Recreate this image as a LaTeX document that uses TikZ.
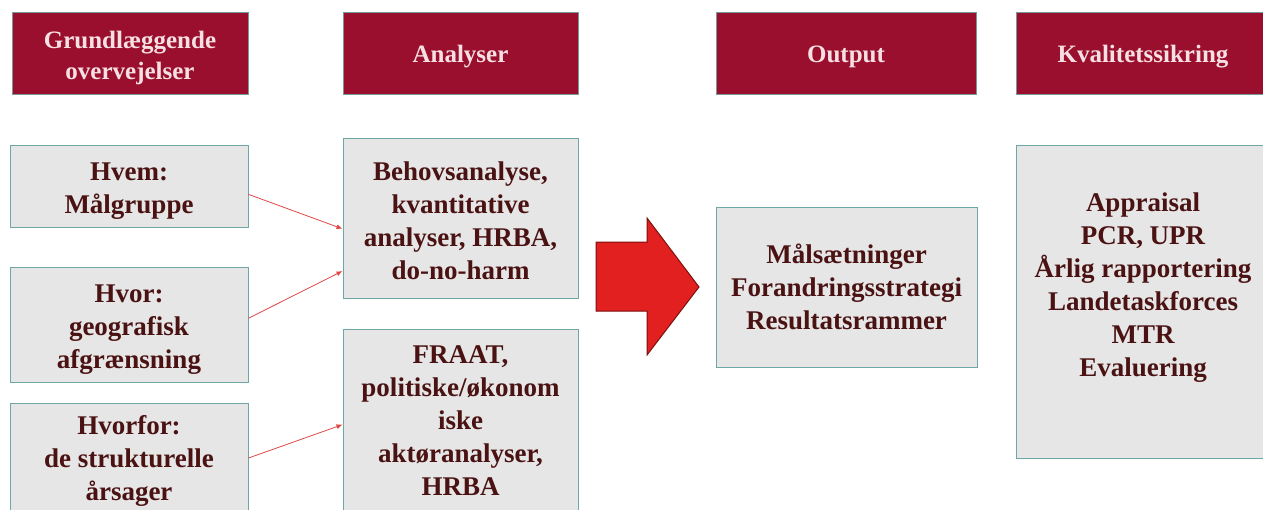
\documentclass[tikz,border=0pt]{standalone}
\usepackage{fontspec}
\setmainfont{Liberation Serif}
\definecolor{hdrfill}{HTML}{9A0F2D}
\definecolor{hdrtext}{HTML}{F6E0E3}
\definecolor{boxfill}{HTML}{E6E6E6}
\definecolor{boxline}{HTML}{6FA6A6}
\definecolor{boxtext}{HTML}{4A1212}
\definecolor{connred}{HTML}{E04848}
\definecolor{bigred}{HTML}{E2201F}
\definecolor{bigredline}{HTML}{7A1010}
\usetikzlibrary{arrows.meta}
\tikzset{
  hdr/.style={draw=boxline!70!gray, line width=0.8pt, fill=hdrfill, inner sep=0pt},
  htext/.style={text=hdrtext, align=center, font=\bfseries\fontsize{25}{31}\selectfont, inner sep=0pt},
  cbox/.style={draw=boxline, line width=1pt, fill=boxfill, inner sep=0pt},
  ctext/.style={text=boxtext, align=center, font=\bfseries\fontsize{27}{33}\selectfont, inner sep=0pt},
  conn/.style={draw=connred, line width=0.8pt, -{Latex[length=6pt,width=5pt]}},
}
\begin{document}
\begin{tikzpicture}[x=1pt,y=-1pt]
\useasboundingbox (0,0) rectangle (1263,509);
\clip (0,0) rectangle (1263,509);
% headers
\node[hdr, minimum width=236pt, minimum height=82pt] (h1) at (130,53) {};
\node[htext] (h1t) at ([yshift=-5pt]h1.center) {Grundlæggende\\overvejelser};
\node[hdr, minimum width=235pt, minimum height=82pt] (h2) at (460.5,53) {};
\node[htext] (h2t) at ([yshift=-4pt]h2.center) {Analyser};
\node[hdr, minimum width=260pt, minimum height=82pt] (h3) at (846,53) {};
\node[htext] (h3t) at ([yshift=-4pt]h3.center) {Output};
\node[hdr, minimum width=254pt, minimum height=82pt] (h4) at (1143,53) {};
\node[htext] (h4t) at ([yshift=-4pt]h4.center) {Kvalitetssikring};
% left column
\node[cbox, minimum width=238pt, minimum height=82pt] (hvem) at (129,186) {};
\node[ctext] (hvemt) at ([yshift=-5pt]hvem.center) {Hvem:\\Målgruppe};
\node[cbox, minimum width=238pt, minimum height=115pt] (hvor) at (129,324.5) {};
\node[ctext] (hvort) at ([yshift=-5pt]hvor.center) {Hvor:\\geografisk\\afgrænsning};
\node[cbox, minimum width=238pt, minimum height=110pt] (hvorfor) at (129,458) {};
\node[ctext] (hvorfort) at ([yshift=-3pt]hvorfor.center) {Hvorfor:\\de strukturelle\\årsager};
% analyses
\node[cbox, minimum width=235pt, minimum height=160pt] (behov) at (460.5,218.5) {};
\node[ctext] (behovt) at ([yshift=-2pt]behov.center) {Behovsanalyse,\\kvantitative\\analyser, HRBA,\\do-no-harm};
\node[cbox, minimum width=235pt, minimum height=183pt] (fraat) at (460.5,420.5) {};
\node[ctext] (fraatt) at (fraat.center) {FRAAT,\\politiske/økonom\\iske\\aktøranalyser,\\HRBA};
% output
\node[cbox, minimum width=261pt, minimum height=160pt] (out) at (846.5,287) {};
\node[ctext] (outt) at (out.center) {Målsætninger\\Forandringsstrategi\\Resultatsrammer};
% quality
\node[cbox, minimum width=254pt, minimum height=313pt] (kv) at (1143,301.5) {};
\node[ctext] (kvt) at ([yshift=14pt]kv.center) {Appraisal\\PCR, UPR\\Årlig rapportering\\Landetaskforces\\MTR\\Evaluering};
% connectors
\draw[conn] (hvem.-4) -- (behov.185);
\draw[conn] (hvor.3) -- (behov.204);
\draw[conn] (hvorfor.east) -- (fraat.182);
% big arrow
\filldraw[fill=bigred, draw=bigredline, line width=1pt, line join=miter]
  (596,242) -- (647,242) -- (647,218) -- (699,287) -- (647,355) -- (647,311) -- (596,311) -- cycle;
\end{tikzpicture}
\end{document}
